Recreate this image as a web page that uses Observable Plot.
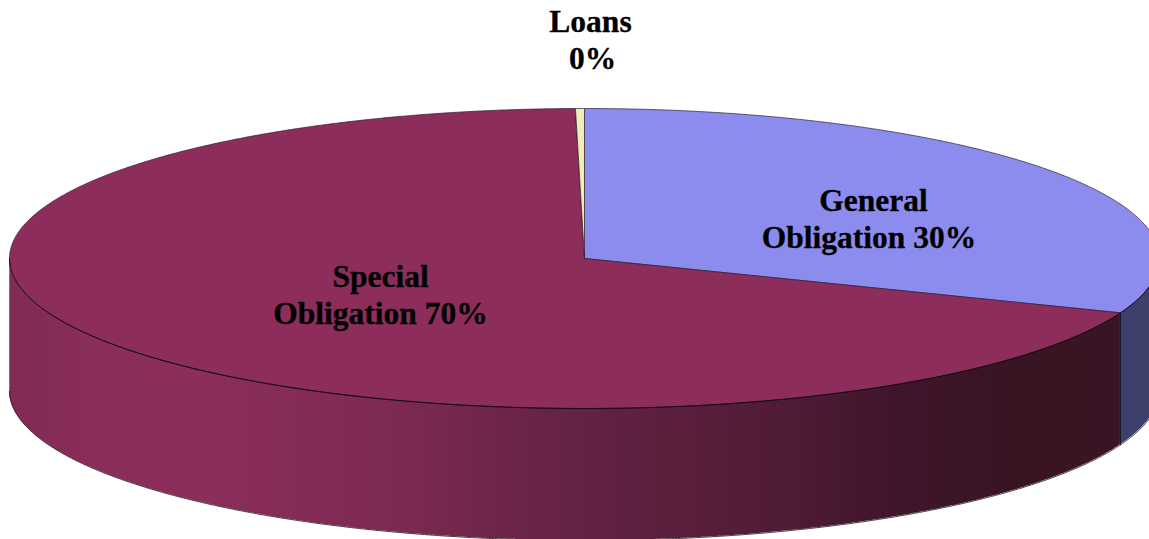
<!DOCTYPE html>
<html>
<head>
<meta charset="utf-8">
<script src="https://cdn.jsdelivr.net/npm/d3@7"></script>
<script src="https://cdn.jsdelivr.net/npm/@observablehq/plot@0.6"></script>
<style>html,body{margin:0;padding:0;background:#fff;overflow:hidden}svg{display:block}</style>
</head>
<body>
<div id="chart"></div>
<script>
const categories = ["General Obligation", "Special Obligation", "Loans"];
const shares = [30.9, 68.85, 0.25];
const topColors = ["#8c8cee", "#8c2d5c", "#f1ecba"];
const labelLines = ["Loans", "0%", "General", "Obligation 30%", "Special", "Obligation 70%"];
const labelX = [590, 592, 873, 868.5, 380, 380];
const labelY = [21, 58, 200, 237, 276, 313];

const W = 1149, H = 539;
const cx = 584, cy = 258, rx = 575, ry = 150, depth = 132;
const px = (t) => cx + rx * Math.sin(t);
const py = (t, d = 0) => cy - ry * Math.cos(t) + d;
const rad = (pct) => (pct / 100) * 2 * Math.PI;

function arcSamples(a0, a1) {
  const n = Math.max(2, Math.ceil(Math.abs(a1 - a0) / 0.005));
  return d3.range(n + 1).map((i) => a0 + (a1 - a0) * i / n);
}

// Slice boundaries, clockwise from twelve o'clock
let acc = 0;
const slices = categories.map((c, i) => {
  const a0 = rad(acc); acc += shares[i];
  return {name: c, color: topColors[i], a0, a1: rad(acc)};
});

const topPolys = slices.flatMap((s) => [
  {k: s.name, color: s.color, x: cx, y: cy},
  ...arcSamples(s.a0, s.a1).map((t) => ({k: s.name, color: s.color, x: px(t), y: py(t)})),
  {k: s.name, color: s.color, x: cx, y: cy}
]);

// Outer wall: everything on the front half of the ellipse
const blueEnd = slices[0].a1;
const wallBlue = arcSamples(Math.PI / 2, blueEnd).map((t) => ({x: px(t), y1: py(t), y2: py(t, depth)}));
const wallRed = arcSamples(blueEnd, 1.5 * Math.PI).map((t) => ({x: px(t), y1: py(t), y2: py(t, depth)}));
const wallBottom = arcSamples(Math.PI / 2, 1.5 * Math.PI).map((t) => ({x: px(t), y: py(t, depth)}));
const wallTop = arcSamples(Math.PI / 2, 1.5 * Math.PI).map((t) => ({x: px(t), y: py(t)}));
const seam = [{x: px(blueEnd), y: py(blueEnd)}, {x: px(blueEnd), y: py(blueEnd, depth)}];
const leftEdge = [{x: px(1.5 * Math.PI), y: py(1.5 * Math.PI)}, {x: px(1.5 * Math.PI), y: py(1.5 * Math.PI, depth)}];

const gradStops = [
  [0, "#802b55"], [0.08, "#8a2d5b"], [0.17, "#8c2e5c"], [0.26, "#842b57"], [0.35, "#7d2951"],
  [0.44, "#6e2549"], [0.52, "#622243"], [0.6, "#5a1f3d"], [0.71, "#4e1a35"], [0.8, "#3f152b"],
  [0.9, "#381423"], [1, "#3a1424"]
];
function gradientDefs() {
  const svgNS = "http://www.w3.org/2000/svg";
  const defs = document.createElementNS(svgNS, "defs");
  const g = document.createElementNS(svgNS, "linearGradient");
  g.setAttribute("id", "wallShade");
  g.setAttribute("x1", "0"); g.setAttribute("x2", "1"); g.setAttribute("y1", "0"); g.setAttribute("y2", "0");
  for (const [o, c] of gradStops) {
    const s = document.createElementNS(svgNS, "stop");
    s.setAttribute("offset", o); s.setAttribute("stop-color", c);
    g.appendChild(s);
  }
  defs.appendChild(g);
  return defs;
}

const labels = labelLines.map((t, i) => ({t, x: labelX[i], y: labelY[i]}));

const chart = Plot.plot({
  width: W, height: H,
  margin: 0,
  x: {domain: [0, W], range: [0, W], axis: null},
  y: {domain: [0, H], range: [0, H], axis: null},
  style: {background: "#fff"},
  marks: [
    gradientDefs,
    Plot.areaY(wallBlue, {x: "x", y1: "y1", y2: "y2", fill: "#3f3f6b", curve: "linear"}),
    Plot.areaY(wallRed, {x: "x", y1: "y1", y2: "y2", fill: "url(#wallShade)", curve: "linear"}),
    Plot.line(wallBottom, {x: "x", y: "y", stroke: "#1a0a12", strokeWidth: 0.8}),
    Plot.line(seam, {x: "x", y: "y", stroke: "#15101c", strokeWidth: 0.9}),
    Plot.line(leftEdge, {x: "x", y: "y", stroke: "#888", strokeWidth: 0.8}),
    Plot.line(topPolys, {x: "x", y: "y", z: "k", fill: "color", stroke: "#2a2030", strokeWidth: 0.7, curve: "linear"}),
    Plot.line(wallTop, {x: "x", y: "y", stroke: "#12080e", strokeWidth: 1}),
    Plot.text(labels, {
      x: "x", y: "y", text: "t", fill: "#000", stroke: "#000", strokeWidth: 0.3,
      fontFamily: "'Liberation Serif', serif", fontWeight: "bold", fontSize: 31.5,
      textAnchor: "middle", lineAnchor: "middle"
    })
  ]
});
document.getElementById("chart").appendChild(chart);
</script>
</body>
</html>
